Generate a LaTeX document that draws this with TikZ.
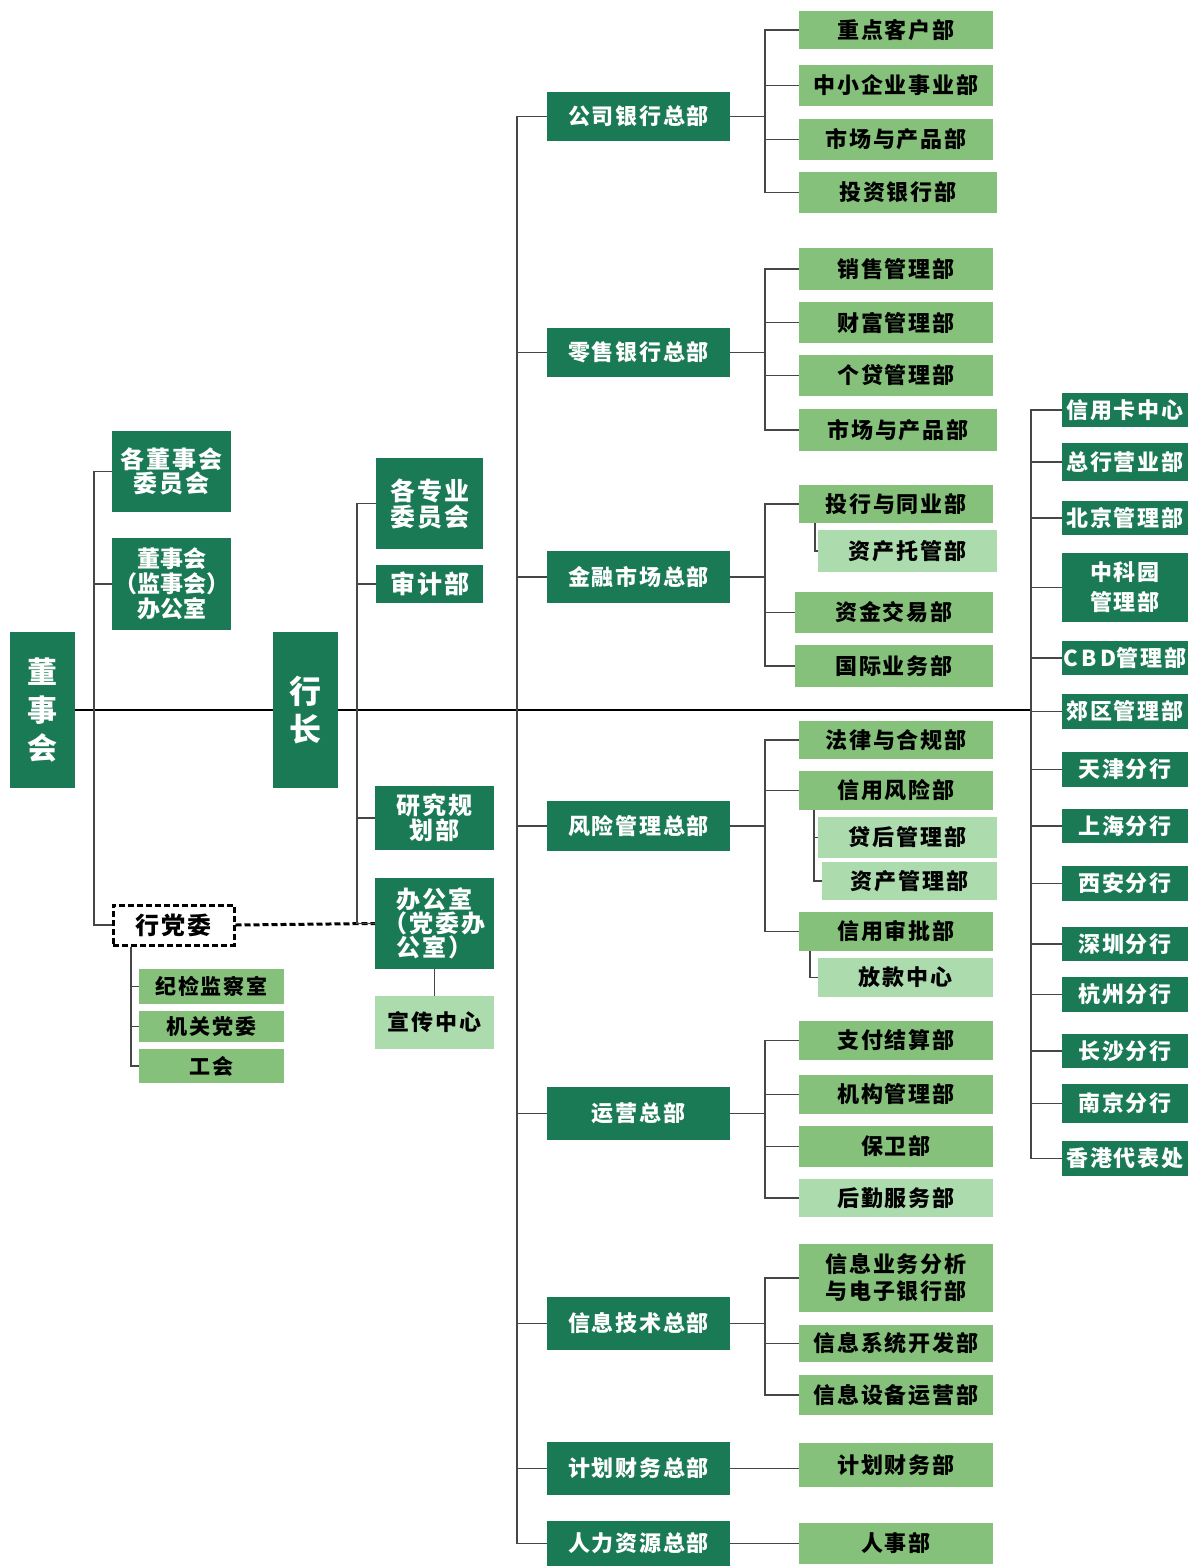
\documentclass[tikz,border=0pt]{standalone}
\usepackage{fontspec}
\setmainfont{Noto Sans CJK SC}[LetterSpace=8]
\newcommand\fs[2]{\fontsize{#1}{#2}\selectfont}
\definecolor{dkg}{RGB}{26,122,86}
\definecolor{mdg}{RGB}{133,193,122}
\definecolor{plg}{RGB}{172,219,174}
\definecolor{lnc}{RGB}{70,70,70}
\tikzset{
  bx/.style={inner sep=0pt,align=center,font=\bfseries\fs{22}{27}},
  dk/.style={bx,fill=dkg,text=white},
  md/.style={bx,fill=mdg,text=black},
  pl/.style={bx,fill=plg,text=black},
  ln/.style={draw=lnc,line width=1.2pt},
  mainln/.style={draw=black,line width=1.6pt},
  dsh/.style={draw=black,line width=3pt,dash pattern=on 6pt off 3pt}
}
\newcommand\B[7]{\node[#1,minimum width={#5-#3},minimum height={#6-#4}] (#2) at ({(#3+#5)/2},{(#4+#6)/2}) {#7};}
\begin{document}
\begin{tikzpicture}[x=1pt,y=-1pt]
\useasboundingbox (0,0) rectangle (1188,1566);
\coordinate (ls) at (94,0);
\coordinate (ds) at (131,0);
\coordinate (hs) at (357,0);
\coordinate (tr) at (517,0);
\coordinate (ss) at (765,0);
\coordinate (rs) at (1031,0);
% left
\B{dk,font=\bfseries\fs{30}{38}}{dsh}{10}{632}{75}{788}{董\\事\\会}
\B{dk,font=\bfseries\fs{24}{22}}{wy1}{112}{431}{231}{512}{各董事会\\委员会}
\B{dk,font=\bfseries\fs{23}{25}\addfontfeature{LetterSpace=0}}{wy2}{112}{538}{231}{630}{董事会\\（监事会）\\办公室}
\B{bx,fill=white,dsh,font=\bfseries\fs{24}{26}}{dw}{113}{905}{234}{945}{行党委}
\B{md,font=\bfseries\fs{21}{24}}{jj}{139}{969}{284}{1004}{纪检监察室}
\B{md,font=\bfseries\fs{21}{24}}{jg}{139}{1011}{284}{1042}{机关党委}
\B{md,font=\bfseries\fs{21}{24}}{gh}{139}{1049}{284}{1083}{工会}
% president
\B{dk,font=\bfseries\fs{32}{38}}{hz}{273}{632}{338}{788}{行\\长}
\B{dk,font=\bfseries\fs{25}{26}}{zy}{376}{458}{483}{549}{各专业\\委员会}
\B{dk,font=\bfseries\fs{25}{26}}{sj}{376}{565}{483}{603}{审计部}
\B{dk,font=\bfseries\fs{24}{25}}{yj}{375}{786}{494}{850}{研究规\\划部}
\B{dk,font=\bfseries\fs{24}{24}}{bgs}{375}{878}{494}{969}{办公室\\（党委办\\公室）}
\B{pl,font=\bfseries\fs{22}{26}}{xc}{375}{996}{494}{1049}{宣传中心}
% HQ departments
\B{dk}{h1}{547}{92}{730}{141}{公司银行总部}
\B{dk}{h2}{547}{328}{730}{377}{零售银行总部}
\B{dk}{h3}{547}{551}{730}{603}{金融市场总部}
\B{dk}{h4}{547}{801}{730}{851}{风险管理总部}
\B{dk}{h5}{547}{1087}{730}{1140}{运营总部}
\B{dk}{h6}{547}{1297}{730}{1350}{信息技术总部}
\B{dk}{h7}{547}{1442}{730}{1495}{计划财务总部}
\B{dk}{h8}{547}{1521}{730}{1566}{人力资源总部}
% group 1
\B{md}{a1}{799}{11}{993}{49}{重点客户部}
\B{md}{a2}{799}{65}{993}{106}{中小企业事业部}
\B{md}{a3}{799}{119}{993}{160}{市场与产品部}
\B{md}{a4}{799}{172}{997}{213}{投资银行部}
% group 2
\B{md}{b1}{799}{248}{993}{290}{销售管理部}
\B{md}{b2}{799}{302}{993}{343}{财富管理部}
\B{md}{b3}{799}{355}{993}{396}{个贷管理部}
\B{md}{b4}{799}{409}{997}{451}{市场与产品部}
% group 3
\B{md}{c1}{799}{485}{993}{523}{投行与同业部}
\B{pl}{c2}{818}{530}{997}{572}{资产托管部}
\B{md}{c3}{795}{592}{993}{633}{资金交易部}
\B{md}{c4}{795}{645}{993}{687}{国际业务部}
% group 4
\B{md}{d1}{799}{721}{993}{759}{法律与合规部}
\B{md}{d2}{799}{771}{993}{810}{信用风险部}
\B{pl}{d3}{818}{817}{997}{858}{贷后管理部}
\B{pl}{d4}{822}{862}{997}{900}{资产管理部}
\B{md}{d5}{799}{912}{993}{951}{信用审批部}
\B{pl}{d6}{818}{958}{993}{997}{放款中心}
% group 5
\B{md}{e1}{799}{1021}{993}{1060}{支付结算部}
\B{md}{e2}{799}{1075}{993}{1114}{机构管理部}
\B{md}{e3}{799}{1126}{993}{1167}{保卫部}
\B{pl}{e4}{799}{1179}{993}{1217}{后勤服务部}
% group 6
\B{md}{f1}{799}{1244}{993}{1312}{信息业务分析\\与电子银行部}
\B{md}{f2}{799}{1325}{993}{1362}{信息系统开发部}
\B{md}{f3}{799}{1375}{993}{1415}{信息设备运营部}
% group 7,8
\B{md}{g1}{799}{1443}{993}{1487}{计划财务部}
\B{md}{k1}{799}{1523}{993}{1564}{人事部}
% right column
\B{dk}{r1}{1062}{393}{1188}{427}{信用卡中心}
\B{dk}{r2}{1062}{443}{1188}{481}{总行营业部}
\B{dk}{r3}{1062}{501}{1188}{535}{北京管理部}
\B{dk,font=\bfseries\fs{22}{30}}{r4}{1062}{553}{1188}{622}{中科园\\管理部}
\B{dk}{r5}{1062}{641}{1188}{675}{{\addfontfeature{LetterSpace=16}CBD}管理部}
\B{dk}{r6}{1062}{694}{1188}{729}{郊区管理部}
\B{dk}{r7}{1062}{752}{1188}{787}{天津分行}
\B{dk}{r8}{1062}{809}{1188}{843}{上海分行}
\B{dk}{r9}{1062}{866}{1188}{901}{西安分行}
\B{dk}{r10}{1062}{927}{1188}{961}{深圳分行}
\B{dk}{r11}{1062}{977}{1188}{1012}{杭州分行}
\B{dk}{r12}{1062}{1034}{1188}{1068}{长沙分行}
\B{dk}{r13}{1062}{1084}{1188}{1123}{南京分行}
\B{dk}{r14}{1062}{1141}{1188}{1176}{香港代表处}
% ---- connectors ----
\draw[mainln] (dsh.east) -- (hz.west);
\draw[mainln] (hz.east) -- (hz.east -| rs);
\draw[ln] (wy1.west) -- (wy1.west -| ls) |- (dw.west);
\draw[ln] (wy2.west) -- (wy2.west -| ls);
\draw[ln] (dw.south -| ds) |- (gh.west);
\draw[ln] (jj.west) -- (jj.west -| ds);
\draw[ln] (jg.west) -- (jg.west -| ds);
\draw[dsh] (dw.east) -- (bgs.west);
\draw[ln] (zy.west) -- (zy.west -| hs) |- (bgs.west);
\draw[ln] (sj.west) -- (sj.west -| hs);
\draw[ln] (yj.west) -- (yj.west -| hs);
\draw[ln] (bgs.south) -- (xc.north);
% trunk
\draw[ln] (h1.west) -- (h1.west -| tr) |- (h8.west);
\foreach \n in {h2,h3,h4,h5,h6,h7} \draw[ln] (\n.west) -- (\n.west -| tr);
% groups
\foreach \h/\f/\l in {h1/a1/a4,h2/b1/b4,h3/c1/c4,h4/d1/d5,h5/e1/e4,h6/f1/f3} {
  \draw[ln] (\h.east) -- (\h.east -| ss);
  \draw[ln] (\f.west) -- (\f.west -| ss) |- (\l.west);
}
\foreach \n in {a2,a3,b2,b3,c3,d2,e2,e3,f2} \draw[ln] (\n.west) -- (\n.west -| ss);
\draw[ln] (h7.east) -- (h7.east -| g1.west);
\draw[ln] (h8.east) -- (h8.east -| k1.west);
\draw[ln] (c1.south -| 815,0) |- (c2.west);
\draw[ln] (d2.south -| 814,0) |- (d4.west);
\draw[ln] (d3.west) -- (d3.west -| 814,0);
\draw[ln] (d5.south -| 810,0) |- (d6.west);
% right
\draw[ln] (r1.west) -- (r1.west -| rs) |- (r14.west);
\foreach \n in {r2,r3,r4,r5,r6,r7,r8,r9,r10,r11,r12,r13} \draw[ln] (\n.west) -- (\n.west -| rs);
\end{tikzpicture}
\end{document}
